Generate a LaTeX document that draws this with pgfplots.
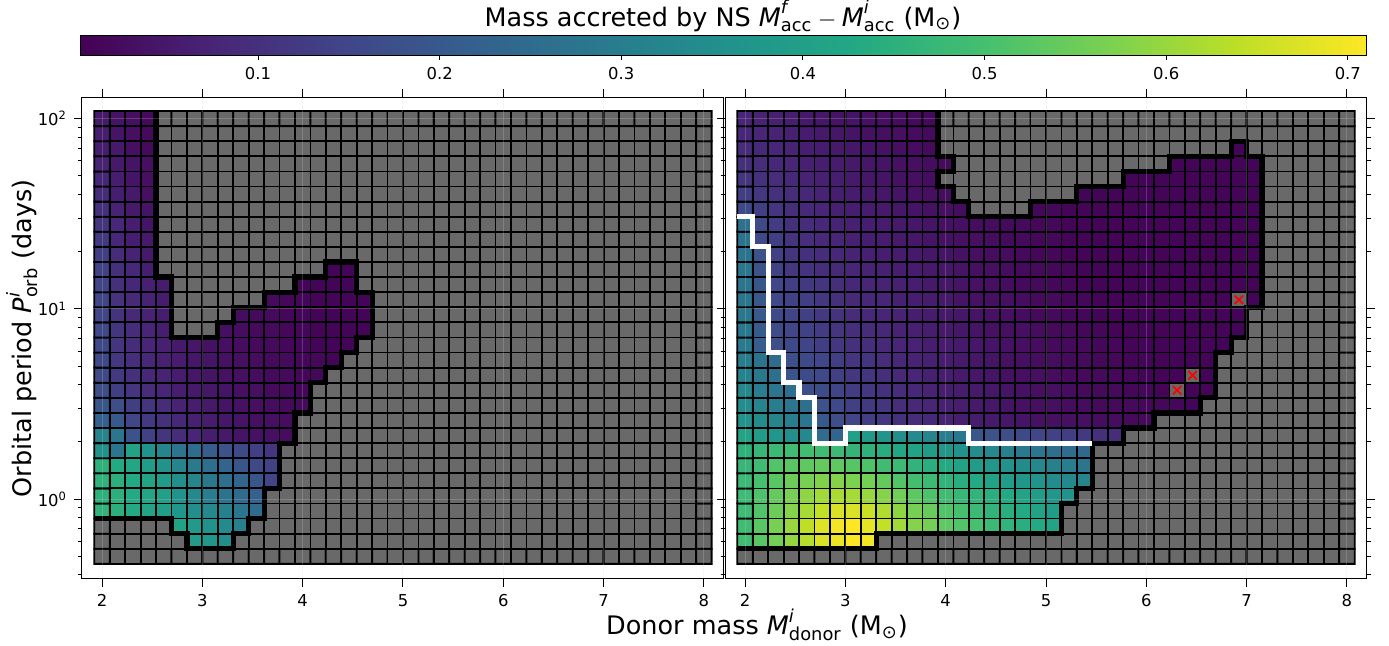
\documentclass[border=0pt]{standalone}
\usepackage{fontspec}
\setmainfont{DejaVu Sans}
\usepackage{amsmath}
\usepackage{pgfplots}
\pgfplotsset{compat=1.18}
\pgfplotsset{
  colormap={vir}{rgb255=(68,1,84) rgb255=(72,36,117) rgb255=(65,68,135) rgb255=(53,95,141) rgb255=(42,120,142) rgb255=(33,145,140) rgb255=(34,168,132) rgb255=(68,191,112) rgb255=(122,209,81) rgb255=(189,223,38) rgb255=(253,231,37)},
  colormap={gv}{rgb255(0cm)=(105,105,105) rgb255(19cm)=(105,105,105) rgb255(20cm)=(68,1,84) rgb255(21cm)=(72,36,117) rgb255(22cm)=(65,68,135) rgb255(23cm)=(53,95,141) rgb255(24cm)=(42,120,142) rgb255(25cm)=(33,145,140) rgb255(26cm)=(34,168,132) rgb255(27cm)=(68,191,112) rgb255(28cm)=(122,209,81) rgb255(29cm)=(189,223,38) rgb255(30cm)=(253,231,37)},
  panel/.style={
    scale only axis, width=321pt, height=240.75pt,
    xmin=1.8, xmax=8.2, ymin=-0.4202, ymax=2.111,
    xtick={2,3,4,5,6,7,8}, xticklabels={2,3,4,5,6,7,8},
    ytick={0,1,2},
    minor ytick={-0.39794,-0.30103,-0.22185,-0.15490,-0.09691,-0.04576,0.30103,0.47712,0.60206,0.69897,0.77815,0.84510,0.90309,0.95424,1.30103,1.47712,1.60206,1.69897,1.77815,1.84510,1.90309,1.95424},
    tick align=outside, xtick pos=both, xticklabel pos=left,
    major tick length=4pt, minor tick length=2.2pt,
    every tick/.style={black, line width=0.5pt},
    ticklabel style={font=\fontsize{8.2}{9}\selectfont},
    axis line style={line width=0.5pt},
    grid=major, major grid style={black!15, opacity=0.22, line width=0.5pt},
    axis on top,
    colormap name=gv, point meta min=-1.414, point meta max=0.71,
  },
  cells/.style={matrix plot*, mesh/cols=40, point meta=explicit, draw=black, line width=0.9pt},
  plain/.style={sharp plot, mesh input=lattice, mesh/check=false, point meta=none},
  edge/.style={plain, line width=2.6pt, line join=miter},
  /pgfplots/table/celltab/.style={header=false, meta index=0,
    x expr={2+0.1538462*(\coordindex-40*floor((\coordindex+0.5)/40))},
    y expr={-0.30103+0.0793459*floor((\coordindex+0.5)/40)}},
}
\begin{document}
\begin{tikzpicture}
\useasboundingbox (0,0) rectangle (694.5pt,323pt);
% ---------------- left panel (y axis: log10 of the period)
\begin{axis}[panel, at={(41pt,33.5pt)}, anchor=south west, ytick pos=left,
  yticklabels={10\textsuperscript{0},10\textsuperscript{1},10\textsuperscript{2}},
  ylabel={Orbital period $\text{\textit{P}}^{\text{\textit{i}}}_{\text{orb}}$\ (days)},
  ylabel style={at={(axis description cs:-0.0935,0.5)}, anchor=center, font=\fontsize{12.75}{14}\selectfont}]
\addplot[cells] table[celltab] {
-1
-1
-1
-1
-1
-1
-1
-1
-1
-1
-1
-1
-1
-1
-1
-1
-1
-1
-1
-1
-1
-1
-1
-1
-1
-1
-1
-1
-1
-1
-1
-1
-1
-1
-1
-1
-1
-1
-1
-1
-1
-1
-1
-1
-1
-1
0.39
0.37
0.345
-1
-1
-1
-1
-1
-1
-1
-1
-1
-1
-1
-1
-1
-1
-1
-1
-1
-1
-1
-1
-1
-1
-1
-1
-1
-1
-1
-1
-1
-1
-1
-1
-1
-1
-1
-1
0.41
0.385
0.36
0.335
0.31
-1
-1
-1
-1
-1
-1
-1
-1
-1
-1
-1
-1
-1
-1
-1
-1
-1
-1
-1
-1
-1
-1
-1
-1
-1
-1
-1
-1
-1
-1
0.46
0.45
0.43
0.41
0.395
0.37
0.35
0.33
0.31
0.28
0.25
-1
-1
-1
-1
-1
-1
-1
-1
-1
-1
-1
-1
-1
-1
-1
-1
-1
-1
-1
-1
-1
-1
-1
-1
-1
-1
-1
-1
-1
0.455
0.45
0.43
0.415
0.40
0.36
0.33
0.30
0.27
0.245
0.22
-1
-1
-1
-1
-1
-1
-1
-1
-1
-1
-1
-1
-1
-1
-1
-1
-1
-1
-1
-1
-1
-1
-1
-1
-1
-1
-1
-1
-1
0.46
0.45
0.43
0.41
0.39
0.35
0.32
0.285
0.26
0.23
0.19
0.15
-1
-1
-1
-1
-1
-1
-1
-1
-1
-1
-1
-1
-1
-1
-1
-1
-1
-1
-1
-1
-1
-1
-1
-1
-1
-1
-1
-1
0.455
0.43
0.42
0.39
0.36
0.32
0.29
0.26
0.23
0.19
0.16
0.14
-1
-1
-1
-1
-1
-1
-1
-1
-1
-1
-1
-1
-1
-1
-1
-1
-1
-1
-1
-1
-1
-1
-1
-1
-1
-1
-1
-1
0.36
0.28
0.41
0.36
0.32
0.28
0.25
0.21
0.18
0.16
0.135
0.11
-1
-1
-1
-1
-1
-1
-1
-1
-1
-1
-1
-1
-1
-1
-1
-1
-1
-1
-1
-1
-1
-1
-1
-1
-1
-1
-1
-1
0.32
0.28
0.18
0.14
0.11
0.09
0.075
0.06
0.05
0.04
0.035
0.03
0.025
-1
-1
-1
-1
-1
-1
-1
-1
-1
-1
-1
-1
-1
-1
-1
-1
-1
-1
-1
-1
-1
-1
-1
-1
-1
-1
-1
0.22
0.20
0.15
0.12
0.10
0.08
0.065
0.055
0.045
0.04
0.03
0.03
0.025
-1
-1
-1
-1
-1
-1
-1
-1
-1
-1
-1
-1
-1
-1
-1
-1
-1
-1
-1
-1
-1
-1
-1
-1
-1
-1
-1
0.19
0.17
0.13
0.11
0.09
0.07
0.06
0.05
0.04
0.035
0.03
0.025
0.02
0.02
-1
-1
-1
-1
-1
-1
-1
-1
-1
-1
-1
-1
-1
-1
-1
-1
-1
-1
-1
-1
-1
-1
-1
-1
-1
-1
0.17
0.13
0.11
0.09
0.075
0.06
0.05
0.045
0.04
0.03
0.03
0.02
0.02
0.015
-1
-1
-1
-1
-1
-1
-1
-1
-1
-1
-1
-1
-1
-1
-1
-1
-1
-1
-1
-1
-1
-1
-1
-1
-1
-1
0.16
0.12
0.10
0.08
0.07
0.055
0.045
0.04
0.035
0.03
0.025
0.02
0.02
0.015
0.015
-1
-1
-1
-1
-1
-1
-1
-1
-1
-1
-1
-1
-1
-1
-1
-1
-1
-1
-1
-1
-1
-1
-1
-1
-1
0.16
0.115
0.095
0.08
0.065
0.055
0.045
0.04
0.035
0.03
0.025
0.02
0.02
0.015
0.015
0.01
-1
-1
-1
-1
-1
-1
-1
-1
-1
-1
-1
-1
-1
-1
-1
-1
-1
-1
-1
-1
-1
-1
-1
-1
0.155
0.11
0.09
0.075
0.065
0.05
0.045
0.035
0.03
0.025
0.02
0.02
0.015
0.015
0.01
0.01
0.01
-1
-1
-1
-1
-1
-1
-1
-1
-1
-1
-1
-1
-1
-1
-1
-1
-1
-1
-1
-1
-1
-1
-1
0.155
0.11
0.09
0.075
0.06
-1
-1
-1
0.03
0.025
0.02
0.02
0.015
0.015
0.01
0.01
0.01
0.01
-1
-1
-1
-1
-1
-1
-1
-1
-1
-1
-1
-1
-1
-1
-1
-1
-1
-1
-1
-1
-1
-1
0.15
0.105
0.085
0.07
0.06
-1
-1
-1
-1
0.025
0.02
0.02
0.015
0.015
0.01
0.01
0.01
0.01
-1
-1
-1
-1
-1
-1
-1
-1
-1
-1
-1
-1
-1
-1
-1
-1
-1
-1
-1
-1
-1
-1
0.15
0.105
0.085
0.07
0.055
-1
-1
-1
-1
-1
-1
0.02
0.015
0.015
0.01
0.01
0.01
0.01
-1
-1
-1
-1
-1
-1
-1
-1
-1
-1
-1
-1
-1
-1
-1
-1
-1
-1
-1
-1
-1
-1
0.145
0.10
0.08
0.065
0.055
-1
-1
-1
-1
-1
-1
-1
-1
0.01
0.01
0.01
0.01
-1
-1
-1
-1
-1
-1
-1
-1
-1
-1
-1
-1
-1
-1
-1
-1
-1
-1
-1
-1
-1
-1
-1
0.14
0.10
0.08
0.06
-1
-1
-1
-1
-1
-1
-1
-1
-1
-1
-1
0.01
0.01
-1
-1
-1
-1
-1
-1
-1
-1
-1
-1
-1
-1
-1
-1
-1
-1
-1
-1
-1
-1
-1
-1
-1
0.13
0.09
0.07
0.05
-1
-1
-1
-1
-1
-1
-1
-1
-1
-1
-1
-1
-1
-1
-1
-1
-1
-1
-1
-1
-1
-1
-1
-1
-1
-1
-1
-1
-1
-1
-1
-1
-1
-1
-1
-1
0.12
0.08
0.06
0.05
-1
-1
-1
-1
-1
-1
-1
-1
-1
-1
-1
-1
-1
-1
-1
-1
-1
-1
-1
-1
-1
-1
-1
-1
-1
-1
-1
-1
-1
-1
-1
-1
-1
-1
-1
-1
0.11
0.08
0.06
0.04
-1
-1
-1
-1
-1
-1
-1
-1
-1
-1
-1
-1
-1
-1
-1
-1
-1
-1
-1
-1
-1
-1
-1
-1
-1
-1
-1
-1
-1
-1
-1
-1
-1
-1
-1
-1
0.10
0.07
0.05
0.04
-1
-1
-1
-1
-1
-1
-1
-1
-1
-1
-1
-1
-1
-1
-1
-1
-1
-1
-1
-1
-1
-1
-1
-1
-1
-1
-1
-1
-1
-1
-1
-1
-1
-1
-1
-1
0.09
0.06
0.05
0.03
-1
-1
-1
-1
-1
-1
-1
-1
-1
-1
-1
-1
-1
-1
-1
-1
-1
-1
-1
-1
-1
-1
-1
-1
-1
-1
-1
-1
-1
-1
-1
-1
-1
-1
-1
-1
0.08
0.06
0.04
0.03
-1
-1
-1
-1
-1
-1
-1
-1
-1
-1
-1
-1
-1
-1
-1
-1
-1
-1
-1
-1
-1
-1
-1
-1
-1
-1
-1
-1
-1
-1
-1
-1
-1
-1
-1
-1
0.07
0.05
0.04
0.03
-1
-1
-1
-1
-1
-1
-1
-1
-1
-1
-1
-1
-1
-1
-1
-1
-1
-1
-1
-1
-1
-1
-1
-1
-1
-1
-1
-1
-1
-1
-1
-1
-1
-1
-1
-1
0.06
0.05
0.03
0.02
-1
-1
-1
-1
-1
-1
-1
-1
-1
-1
-1
-1
-1
-1
-1
-1
-1
-1
-1
-1
-1
-1
-1
-1
-1
-1
-1
-1
-1
-1
-1
-1
-1
-1
-1
-1
0.06
0.04
0.03
0.02
-1
-1
-1
-1
-1
-1
-1
-1
-1
-1
-1
-1
-1
-1
-1
-1
-1
-1
-1
-1
-1
-1
-1
-1
-1
-1
-1
-1
-1
-1
-1
-1
-1
-1
-1
-1
0.05
0.04
0.03
0.02
-1
-1
-1
-1
-1
-1
-1
-1
-1
-1
-1
-1
-1
-1
-1
-1
-1
-1
-1
-1
-1
-1
-1
-1
-1
-1
-1
-1
-1
-1
-1
-1
-1
-1
-1
-1
};
\addplot[edge, black] coordinates {
(1.9231,-0.10266) (2.6923,-0.10266) (2.6923,-0.18201) (2.8462,-0.18201) (2.8462,-0.26136)
(3.3077,-0.26136) (3.3077,-0.18201) (3.4615,-0.18201) (3.4615,-0.10266) (3.6154,-0.10266)
(3.6154,0.05603) (3.7692,0.05603) (3.7692,0.29407) (3.9231,0.29407) (3.9231,0.45276)
(4.0769,0.45276) (4.0769,0.61146) (4.2308,0.61146) (4.2308,0.69080) (4.3846,0.69080)
(4.3846,0.77015) (4.5385,0.77015) (4.5385,0.84950) (4.6923,0.84950) (4.6923,1.08753)
(4.5385,1.08753) (4.5385,1.24623) (4.2308,1.24623) (4.2308,1.16688) (3.9231,1.16688)
(3.9231,1.08753) (3.6154,1.08753) (3.6154,1.00819) (3.3077,1.00819) (3.3077,0.92884)
(3.1538,0.92884) (3.1538,0.84950) (2.6923,0.84950) (2.6923,1.16688) (2.5385,1.16688)
(2.5385,2.03969)};
\end{axis}
% ---------------- right panel
\begin{axis}[panel, at={(362.5pt,33.5pt)}, anchor=south west, ytick pos=both, yticklabels={},
  xlabel={Donor mass $\text{\textit{M}}^{\text{\textit{i}}}_{\text{donor}}$ (M$_{\text{⊙}}$)},
  xlabel style={at={(axis description cs:0.0498,-0.0955)}, anchor=center, font=\fontsize{12.75}{14}\selectfont}]
\addplot[cells] table[celltab] {
-1
-1
-1
-1
-1
-1
-1
-1
-1
-1
-1
-1
-1
-1
-1
-1
-1
-1
-1
-1
-1
-1
-1
-1
-1
-1
-1
-1
-1
-1
-1
-1
-1
-1
-1
-1
-1
-1
-1
-1
0.49
0.525
0.56
0.595
0.63
0.67
0.69
0.71
0.70
-1
-1
-1
-1
-1
-1
-1
-1
-1
-1
-1
-1
-1
-1
-1
-1
-1
-1
-1
-1
-1
-1
-1
-1
-1
-1
-1
-1
-1
-1
-1
0.49
0.525
0.565
0.60
0.64
0.675
0.70
0.71
0.685
0.645
0.61
0.58
0.56
0.535
0.515
0.50
0.48
0.46
0.445
0.43
0.41
-1
-1
-1
-1
-1
-1
-1
-1
-1
-1
-1
-1
-1
-1
-1
-1
-1
-1
-1
0.485
0.515
0.55
0.58
0.615
0.645
0.67
0.67
0.655
0.625
0.59
0.565
0.545
0.515
0.50
0.48
0.46
0.445
0.43
0.41
0.39
-1
-1
-1
-1
-1
-1
-1
-1
-1
-1
-1
-1
-1
-1
-1
-1
-1
-1
-1
0.485
0.51
0.54
0.565
0.59
0.61
0.62
0.615
0.60
0.58
0.555
0.53
0.51
0.49
0.47
0.46
0.445
0.43
0.41
0.39
0.37
0.36
-1
-1
-1
-1
-1
-1
-1
-1
-1
-1
-1
-1
-1
-1
-1
-1
-1
-1
0.48
0.50
0.525
0.55
0.565
0.575
0.58
0.57
0.56
0.54
0.515
0.495
0.48
0.46
0.445
0.43
0.41
0.39
0.375
0.365
0.345
0.33
0.32
-1
-1
-1
-1
-1
-1
-1
-1
-1
-1
-1
-1
-1
-1
-1
-1
-1
0.47
0.49
0.515
0.525
0.535
0.54
0.535
0.52
0.51
0.49
0.48
0.46
0.445
0.43
0.41
0.39
0.375
0.36
0.34
0.33
0.31
0.30
0.28
-1
-1
-1
-1
-1
-1
-1
-1
-1
-1
-1
-1
-1
-1
-1
-1
-1
0.455
0.47
0.48
0.49
0.495
0.49
0.48
0.465
0.455
0.44
0.425
0.41
0.39
0.37
0.36
0.345
0.33
0.31
0.29
0.28
0.26
0.25
0.24
-1
-1
-1
-1
-1
-1
-1
-1
-1
-1
-1
-1
-1
-1
-1
-1
-1
0.41
0.39
0.37
0.35
0.33
0.25
0.23
0.40
0.38
0.365
0.35
0.335
0.32
0.30
0.285
0.19
0.18
0.17
0.16
0.15
0.14
0.13
0.12
0.10
0.09
-1
-1
-1
-1
-1
-1
-1
-1
-1
-1
-1
-1
-1
-1
-1
0.36
0.34
0.32
0.30
0.28
0.20
0.17
0.15
0.13
0.115
0.10
0.09
0.08
0.07
0.06
0.055
0.05
0.045
0.04
0.035
0.03
0.03
0.03
0.025
0.025
0.02
0.02
-1
-1
-1
-1
-1
-1
-1
-1
-1
-1
-1
-1
-1
0.345
0.32
0.30
0.28
0.26
0.18
0.155
0.135
0.12
0.11
0.095
0.085
0.075
0.065
0.06
0.05
0.045
0.04
0.035
0.03
0.03
0.025
0.025
0.02
0.02
0.02
0.015
0.015
0.015
0.01
-1
-1
-1
-1
-1
-1
-1
-1
-1
-1
0.33
0.30
0.28
0.26
0.17
0.165
0.145
0.125
0.115
0.10
0.09
0.08
0.07
0.06
0.055
0.05
0.045
0.04
0.035
0.03
0.03
0.025
0.02
0.02
0.02
0.015
0.015
0.01
-1
0.01
0.01
-1
-1
-1
-1
-1
-1
-1
-1
-1
0.315
0.285
0.26
0.18
0.165
0.155
0.135
0.115
0.11
0.095
0.085
0.075
0.065
0.06
0.05
0.045
0.04
0.035
0.03
0.03
0.025
0.02
0.02
0.02
0.015
0.015
0.01
0.01
0.01
-1
0.01
-1
-1
-1
-1
-1
-1
-1
-1
-1
0.30
0.27
0.245
0.17
0.16
0.15
0.13
0.11
0.105
0.09
0.08
0.07
0.065
0.055
0.05
0.045
0.04
0.035
0.03
0.025
0.025
0.02
0.02
0.015
0.015
0.01
0.01
0.01
0.01
0.01
0.01
-1
-1
-1
-1
-1
-1
-1
-1
-1
0.29
0.21
0.17
0.155
0.145
0.13
0.115
0.10
0.095
0.085
0.075
0.07
0.06
0.055
0.05
0.045
0.04
0.035
0.03
0.025
0.02
0.02
0.02
0.015
0.015
0.01
0.01
0.01
0.01
0.01
0.01
0.01
-1
-1
-1
-1
-1
-1
-1
-1
0.285
0.205
0.165
0.15
0.14
0.125
0.11
0.095
0.09
0.08
0.07
0.065
0.06
0.05
0.045
0.04
0.035
0.03
0.03
0.025
0.02
0.02
0.015
0.015
0.01
0.01
0.01
0.01
0.01
0.01
0.01
0.01
0.01
-1
-1
-1
-1
-1
-1
-1
0.285
0.20
0.16
0.145
0.135
0.12
0.105
0.09
0.085
0.075
0.07
0.06
0.055
0.05
0.045
0.04
0.035
0.03
0.025
0.02
0.02
0.015
0.015
0.01
0.01
0.01
0.01
0.01
0.01
0.01
0.01
0.01
0.01
-1
-1
-1
-1
-1
-1
-1
0.28
0.195
0.155
0.14
0.13
0.115
0.10
0.085
0.08
0.075
0.065
0.06
0.055
0.05
0.04
0.035
0.03
0.03
0.025
0.02
0.02
0.015
0.015
0.01
0.01
0.01
0.01
0.01
0.01
0.01
0.01
0.01
-1
0.01
-1
-1
-1
-1
-1
-1
0.28
0.19
0.15
0.13
0.12
0.11
0.095
0.08
0.075
0.07
0.065
0.06
0.05
0.045
0.04
0.035
0.03
0.025
0.02
0.02
0.015
0.015
0.01
0.01
0.01
0.01
0.01
0.01
0.01
0.01
0.01
0.01
0.01
0.01
-1
-1
-1
-1
-1
-1
0.28
0.185
0.14
0.115
0.105
0.095
0.085
0.075
0.07
0.065
0.06
0.055
0.05
0.045
0.04
0.03
0.03
0.025
0.02
0.02
0.015
0.015
0.01
0.01
0.01
0.01
0.01
0.01
0.01
0.01
0.01
0.01
0.01
0.01
-1
-1
-1
-1
-1
-1
0.275
0.18
0.135
0.11
0.10
0.09
0.08
0.07
0.065
0.06
0.055
0.05
0.045
0.04
0.035
0.03
0.025
0.025
0.02
0.015
0.015
0.01
0.01
0.01
0.01
0.01
0.01
0.01
0.01
0.01
0.01
0.01
0.01
0.01
-1
-1
-1
-1
-1
-1
0.27
0.16
0.13
0.105
0.095
0.085
0.075
0.065
0.06
0.055
0.05
0.045
0.04
0.035
0.03
0.03
0.025
0.02
0.02
0.015
0.015
0.01
0.01
0.01
0.01
0.01
0.01
0.01
0.01
0.01
0.01
0.01
0.01
0.01
-1
-1
-1
-1
-1
-1
0.265
0.155
0.125
0.10
0.09
0.08
0.07
0.065
0.06
0.055
0.05
0.045
0.04
0.035
0.03
0.025
0.025
0.02
0.02
0.015
0.015
0.01
0.01
0.01
0.01
0.01
0.01
0.01
0.01
0.01
0.01
0.01
0.01
0.01
-1
-1
-1
-1
-1
-1
0.16
0.13
0.11
0.095
0.085
0.075
0.065
0.06
0.055
0.05
0.045
0.04
0.035
0.03
0.025
-1
-1
-1
-1
0.015
0.015
0.01
0.01
0.01
0.01
0.01
0.01
0.01
0.01
0.01
0.01
0.01
0.01
0.01
-1
-1
-1
-1
-1
-1
0.13
0.115
0.10
0.09
0.08
0.07
0.06
0.055
0.05
0.045
0.04
0.035
0.03
0.025
-1
-1
-1
-1
-1
-1
-1
-1
0.01
0.01
0.01
0.01
0.01
0.01
0.01
0.01
0.01
0.01
0.01
0.01
-1
-1
-1
-1
-1
-1
0.11
0.10
0.09
0.08
0.07
0.065
0.06
0.05
0.045
0.04
0.035
0.03
0.025
-1
-1
-1
-1
-1
-1
-1
-1
-1
-1
-1
-1
0.01
0.01
0.01
0.01
0.01
0.01
0.01
0.01
0.01
-1
-1
-1
-1
-1
-1
0.10
0.09
0.08
0.075
0.065
0.06
0.055
0.05
0.045
0.04
0.035
0.03
0.025
0.02
-1
-1
-1
-1
-1
-1
-1
-1
-1
-1
-1
-1
-1
-1
0.01
0.01
0.01
0.01
0.01
0.01
-1
-1
-1
-1
-1
-1
0.09
0.08
0.075
0.07
0.06
0.055
0.05
0.045
0.04
0.035
0.03
0.025
0.02
-1
-1
-1
-1
-1
-1
-1
-1
-1
-1
-1
-1
-1
-1
-1
-1
-1
-1
-1
0.01
-1
-1
-1
-1
-1
-1
-1
0.08
0.075
0.07
0.065
0.055
0.05
0.045
0.04
0.035
0.03
0.03
0.025
0.02
-1
-1
-1
-1
-1
-1
-1
-1
-1
-1
-1
-1
-1
-1
-1
-1
-1
-1
-1
-1
-1
-1
-1
-1
-1
-1
-1
0.075
0.07
0.065
0.06
0.05
0.045
0.04
0.04
0.035
0.03
0.025
0.02
0.02
-1
-1
-1
-1
-1
-1
-1
-1
-1
-1
-1
-1
-1
-1
-1
-1
-1
-1
-1
-1
-1
-1
-1
-1
-1
-1
-1
};
\addplot[edge, black] coordinates {
(1.9231,-0.26136) (3.3077,-0.26136) (3.3077,-0.18201) (5.1538,-0.18201) (5.1538,-0.02332)
(5.3077,-0.02332) (5.3077,0.05603) (5.4615,0.05603) (5.4615,0.29407) (5.7692,0.29407)
(5.7692,0.37342) (6.0769,0.37342) (6.0769,0.45276) (6.5385,0.45276) (6.5385,0.53211)
(6.6923,0.53211) (6.6923,0.77015) (6.8462,0.77015) (6.8462,0.84950) (7.0000,0.84950)
(7.0000,1.00819) (7.1538,1.00819) (7.1538,1.80165) (7.0000,1.80165) (7.0000,1.88100)
(6.8462,1.88100) (6.8462,1.80165) (6.2308,1.80165) (6.2308,1.72231) (5.7692,1.72231)
(5.7692,1.64296) (5.3077,1.64296) (5.3077,1.56361) (4.8462,1.56361) (4.8462,1.48427)
(4.2308,1.48427) (4.2308,1.56361) (4.0769,1.56361) (4.0769,1.64296) (3.9231,1.64296)
(3.9231,1.72231) (4.0769,1.72231) (4.0769,1.80165) (3.9231,1.80165) (3.9231,2.03969)};
\addplot[edge, white] coordinates {
(1.9231,1.48427) (2.0769,1.48427) (2.0769,1.32557) (2.2308,1.32557) (2.2308,0.77015)
(2.3846,0.77015) (2.3846,0.61146) (2.5385,0.61146) (2.5385,0.53211) (2.6923,0.53211)
(2.6923,0.29407) (3.0000,0.29407) (3.0000,0.37342) (4.2308,0.37342) (4.2308,0.29407)
(5.4615,0.29407)};
\addplot[plain, only marks, mark=x, mark size=3pt, color=red, mark options={line width=0.9pt}] coordinates {
(6.3077,0.57178) (6.4615,0.65113) (6.9231,1.04785)};
\end{axis}
% ---------------- colour bar
\begin{axis}[at={(40pt,304pt)}, anchor=south west, scale only axis, width=643pt, height=10pt,
  hide axis, xmin=0, xmax=1, ymin=0, ymax=1,
  colormap name=vir, point meta min=0.002, point meta max=0.71,
  colorbar horizontal,
  colorbar style={at={(parent axis.south west)}, anchor=south west,
    scale only axis, width=643pt, height=10pt,
    xtick={0.1,0.2,0.3,0.4,0.5,0.6,0.7},
    xticklabels={0.1,0.2,0.3,0.4,0.5,0.6,0.7},
    xtick pos=left, xticklabel pos=left,
    tick align=outside, major tick length=2.4pt,
    every tick/.style={black, line width=0.5pt},
    ticklabel style={font=\fontsize{8.2}{9}\selectfont},
    axis line style={line width=0.5pt},
    title={Mass accreted by NS $\text{\textit{M}}^{\text{\textit{f}}}_{\text{acc}}-\text{\textit{M}}^{\text{\textit{i}}}_{\text{acc}}$ (M$_{\text{⊙}}$)},
    title style={at={(0.5,1)}, anchor=base, yshift=-1.5pt, inner sep=0pt, font=\fontsize{12.75}{14}\selectfont},
  }]
\addplot[plain, draw=none] coordinates {(0.5,0.5)};
\end{axis}
\end{tikzpicture}
\end{document}
